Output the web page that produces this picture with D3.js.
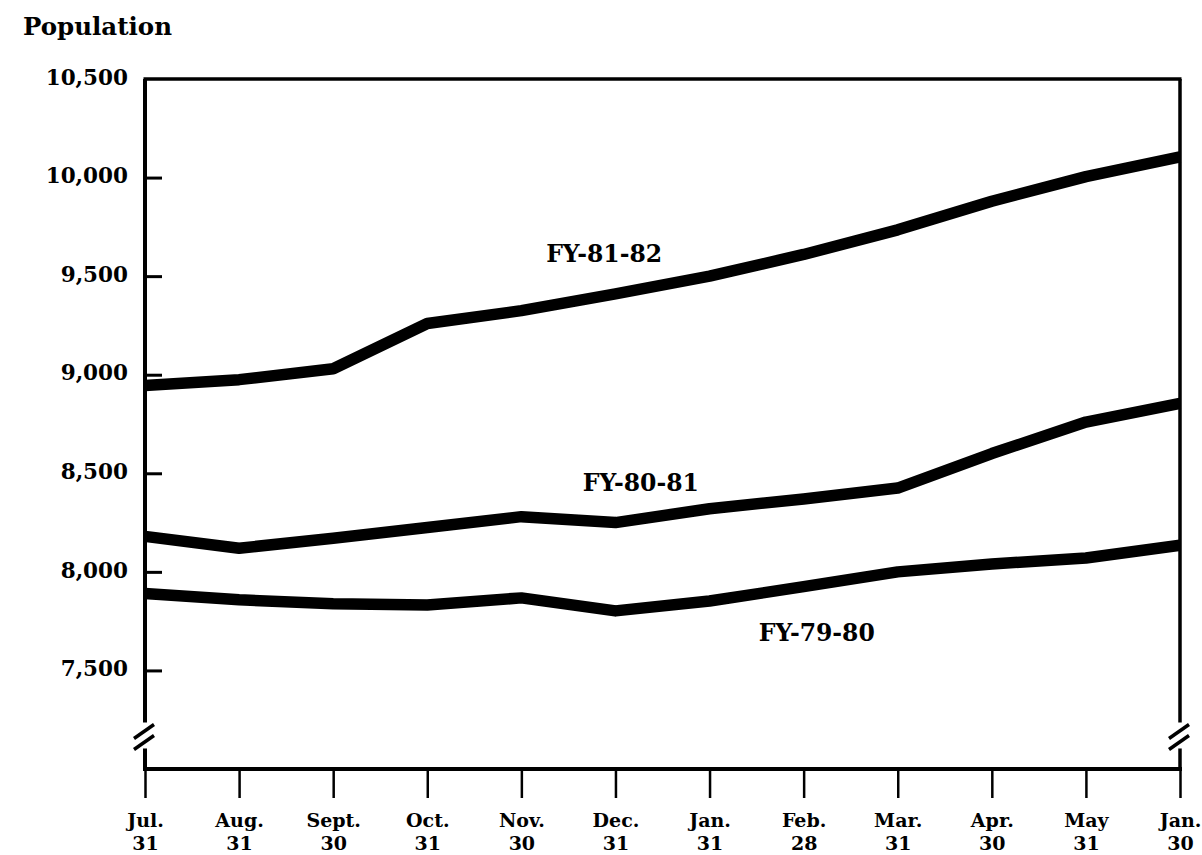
<!DOCTYPE html>
<html>
<head>
<meta charset="utf-8">
<script src="https://cdn.jsdelivr.net/npm/d3@7"></script>
<style>
  body { margin: 0; background: #fff; }
  svg { display: block; }
  text { font-family: "DejaVu Serif", "Liberation Serif", serif; font-weight: bold; fill: #000; }
</style>
</head>
<body>
<div id="chart"></div>
<script>
// Population by month, three fiscal years
const months = ['Jul.', 'Aug.', 'Sept.', 'Oct.', 'Nov.', 'Dec.', 'Jan.', 'Feb.', 'Mar.', 'Apr.', 'May', 'Jan.'];
const days = ['31', '31', '30', '31', '30', '31', '31', '28', '31', '30', '31', '30'];
const yTicks = [7500, 8000, 8500, 9000, 9500, 10000, 10500];

const fy8182 = [8945, 8975, 9030, 9260, 9325, 9410, 9500, 9610, 9735, 9880, 10005, 10105];
const fy8081 = [8180, 8120, 8170, 8225, 8280, 8250, 8320, 8370, 8425, 8600, 8760, 8855];
const fy7980 = [7890, 7858, 7838, 7832, 7868, 7802, 7852, 7925, 8000, 8040, 8070, 8135];

const seriesNames = ['FY-81-82', 'FY-80-81', 'FY-79-80'];
// label anchor: [month index, population value]
const labelAt = [[4.88, 9570], [5.27, 8410], [7.14, 7650]];

const W = 1202, H = 855;
const mLeft = 145, mRight = 1180, mTop = 79, mBottom = 769;

const svg = d3.select('#chart').append('svg')
  .attr('width', W)
  .attr('height', H);

const x = d3.scaleLinear().domain([0, months.length - 1]).range([mLeft, mRight]);
const y = d3.scaleLinear().domain([7000, 10500]).range([mBottom, mTop]);

// y axis ticks (inside) and labels
const yAxis = d3.axisLeft(y)
  .tickValues(yTicks)
  .tickSizeInner(-17)
  .tickSizeOuter(0)
  .tickPadding(17)
  .tickFormat(d3.format(','));

const gy = svg.append('g').attr('transform', `translate(${mLeft},0)`).call(yAxis);
gy.select('.domain').remove();
gy.selectAll('.tick line').attr('stroke', '#000').attr('stroke-width', 3)
  .filter(d => d === 10500).remove();
gy.selectAll('.tick text')
  .attr('dy', '0.24em')
  .style('font-size', '21.5px');

// x axis ticks below
const xAxis = d3.axisBottom(x)
  .tickValues(d3.range(months.length))
  .tickSizeInner(29)
  .tickSizeOuter(0)
  .tickFormat('');

const gx = svg.append('g').attr('transform', `translate(0,${mBottom})`).call(xAxis);
gx.select('.domain').remove();
gx.selectAll('.tick line').attr('stroke', '#000').attr('stroke-width', 2.5);
gx.selectAll('.tick text').remove();
gx.selectAll('.tick').append('text')
  .attr('text-anchor', 'middle')
  .style('font-size', '19px')
  .each(function(d) {
    const t = d3.select(this);
    t.append('tspan').attr('x', 0).attr('y', 58).text(months[d]);
    t.append('tspan').attr('x', 0).attr('y', 81).text(days[d]);
  });

// frame with axis breaks
const breakVal = 7165;
const yb = y(breakVal);
const frame = svg.append('g').attr('stroke', '#000').attr('fill', 'none');
frame.append('line').attr('x1', mLeft - 1.5).attr('x2', mRight + 1.5).attr('y1', mTop).attr('y2', mTop).attr('stroke-width', 3.5);
frame.append('line').attr('x1', mLeft - 2).attr('x2', mRight + 2).attr('y1', mBottom).attr('y2', mBottom).attr('stroke-width', 4);

[{ ax: mLeft, w: 4 }, { ax: mRight, w: 3.5 }].forEach(a => {
  frame.append('line').attr('x1', a.ax).attr('x2', a.ax).attr('y1', mTop).attr('y2', yb - 14).attr('stroke-width', a.w);
  frame.append('line').attr('x1', a.ax).attr('x2', a.ax).attr('y1', yb + 12).attr('y2', mBottom).attr('stroke-width', a.w);
  [-5, 6].forEach(off => {
    frame.append('line')
      .attr('x1', a.ax - 11).attr('y1', yb + off + 7)
      .attr('x2', a.ax + 9).attr('y2', yb + off - 7)
      .attr('stroke-width', 3.5);
  });
});

// series lines
const line = d3.line()
  .x((d, i) => x(i))
  .y(d => y(d));

const allSeries = [fy8182, fy8081, fy7980];
svg.append('g').selectAll('path')
  .data(allSeries)
  .join('path')
  .attr('d', line)
  .attr('fill', 'none')
  .attr('stroke', '#000')
  .attr('stroke-width', 11.5)
  .attr('stroke-linejoin', 'round');

svg.append('g').selectAll('text')
  .data(seriesNames)
  .join('text')
  .attr('x', (d, i) => x(labelAt[i][0]))
  .attr('y', (d, i) => y(labelAt[i][1]))
  .attr('text-anchor', 'middle')
  .style('font-size', '23.5px')
  .text(d => d);

svg.append('text')
  .attr('x', 23)
  .attr('y', 35)
  .style('font-size', '24.5px')
  .text('Population');
</script>
</body>
</html>
